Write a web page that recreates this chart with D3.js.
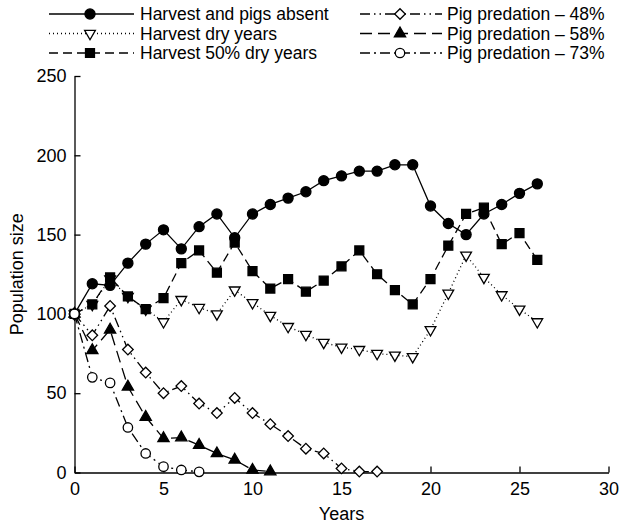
<!DOCTYPE html>
<html><head><meta charset="utf-8">
<script src="https://cdn.jsdelivr.net/npm/d3@7"></script>
<style>body{margin:0;background:#fff}svg{display:block}text{font-family:"Liberation Sans",Arial,Helvetica,sans-serif;fill:#000}</style>
</head><body>
<svg id="c" width="620" height="524"></svg>
<script>
const xTicks = [0,5,10,15,20,25,30];
const yTicks = [0,50,100,150,200,250];
const seriesNames = ["Harvest and pigs absent","Harvest dry years","Harvest 50% dry years","Pig predation – 48%","Pig predation – 58%","Pig predation – 73%"];
const absent = [100,119,118,132,144,153,141,155,163,148,163,169,173,177,184,187,190,190,194,194,168,157,150,163,169,176,182];
const dryYears = [100,106,122,111,103,95,109,104,100,115,107,99,92,87,82,79,77.5,75,74,73,90,113,137,123,112,103,95];
const half = [100,106,123,111,103,110,132,140,126,145,127,116,122,114,121,130,140,125,115,106,122,143,163,167,144,151,134];
const pig48 = [100,86.5,105,77.5,63,50,54.5,43.5,37.5,47,37.5,30.5,23,15,12,2.6,0.6,0.6];
const pig58 = [100,77,90,54,35,21.5,22,17.3,12,8,1.6,0.6];
const pig73 = [100,60,56.5,28.4,12,3.7,1.6,0.4];

const svg = d3.select("#c");
const x = d3.scaleLinear().domain([0,30]).range([74.5,608.5]);
const y = d3.scaleLinear().domain([0,250]).range([472.5,76]);

const styles = [
  {vals:absent, dash:null, sym:d3.symbolCircle, size:80, fill:"#000", rot:0},
  {vals:dryYears, dash:"1,3", sym:d3.symbolTriangle, size:50, fill:"#fff", rot:180},
  {vals:half, dash:"9,5", sym:d3.symbolSquare, size:80, fill:"#000", rot:0},
  {vals:pig48, dash:"10,4,1.5,4,1.5,4", sym:d3.symbolSquare, size:56, fill:"#fff", rot:45},
  {vals:pig58, dash:"12,6", sym:d3.symbolTriangle, size:55, fill:"#000", rot:0},
  {vals:pig73, dash:"10,4,2,4", sym:d3.symbolCircle, size:70, fill:"#fff", rot:0}
];

// axes
const gx = svg.append("g").attr("transform",`translate(0,${y(0)})`)
  .call(d3.axisBottom(x).tickValues(xTicks).tickSizeInner(-6).tickSizeOuter(0).tickPadding(10));
const gy = svg.append("g").attr("transform",`translate(${x(0)},0)`)
  .call(d3.axisLeft(y).tickValues(yTicks).tickSizeInner(-6).tickSizeOuter(0).tickPadding(8));
[gx,gy].forEach(g=>{
  g.select(".domain").attr("stroke","#000").attr("stroke-width",1.3);
  g.selectAll(".tick line").attr("stroke","#000").attr("stroke-width",1.3);
  g.selectAll(".tick text").style("font-size","18px").attr("fill","#000").style("font-family",'"Liberation Sans",Arial,sans-serif');
});

svg.append("text").attr("x",(x(0)+x(30))/2).attr("y",520).attr("text-anchor","middle").style("font-size","18px").text("Years");
svg.append("text").attr("transform",`translate(23,${(y(0)+y(250))/2}) rotate(-90)`).attr("text-anchor","middle").style("font-size","18px").text("Population size");

const line = d3.line().x((d,i)=>x(i)).y(d=>y(d));
const drawOrder = [1,2,0,3,4,5];
drawOrder.forEach(k=>{
  const s = styles[k];
  const g = svg.append("g");
  g.append("path").datum(s.vals).attr("d",line).attr("fill","none").attr("stroke","#000")
    .attr("stroke-width",1.3).attr("stroke-dasharray",s.dash);
  g.selectAll("path.m").data(s.vals).join("path").attr("class","m")
    .attr("d",d3.symbol().type(s.sym).size(s.size))
    .attr("transform",(d,i)=>`translate(${x(i)},${y(d)}) rotate(${s.rot})`)
    .attr("fill",s.fill).attr("stroke","#000").attr("stroke-width",1.3);
});

// legend
const legendRows = [14,33.5,53];
const cols = [{x0:49,x1:134,mx:90,tx:140},{x0:360,x1:442,mx:400,tx:447}];
seriesNames.forEach((name,k)=>{
  const c = cols[Math.floor(k/3)], ry = legendRows[k%3], s = styles[k];
  svg.append("line").attr("x1",c.x0).attr("x2",c.x1).attr("y1",ry).attr("y2",ry)
    .attr("stroke","#000").attr("stroke-width",1.3).attr("stroke-dasharray",s.dash);
  svg.append("path").attr("d",d3.symbol().type(s.sym).size(s.size))
    .attr("transform",`translate(${c.mx},${ry}) rotate(${s.rot})`)
    .attr("fill",s.fill).attr("stroke","#000").attr("stroke-width",1.3);
  svg.append("text").attr("x",c.tx).attr("y",ry).attr("dy","0.35em").style("font-size","17.5px").text(name);
});
</script>
</body></html>
